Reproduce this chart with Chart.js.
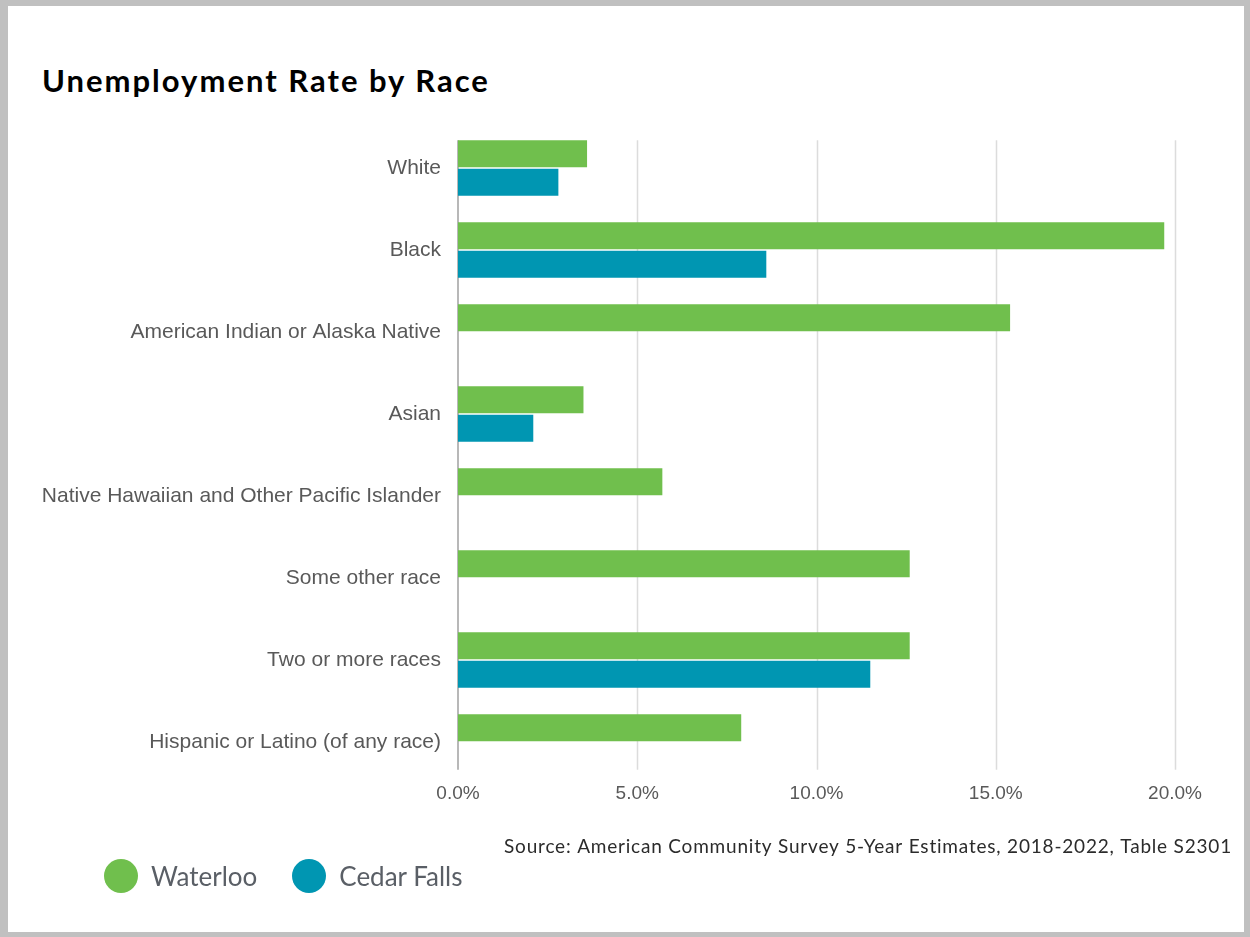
<!DOCTYPE html>
<html>
<head>
<meta charset="utf-8">
<script src="https://cdn.jsdelivr.net/npm/chart.js@4"></script>
<style>
  body { margin: 0; background: #fff; }
  #frame {
    position: absolute; left: 0; top: 0;
    width: 1250px; height: 937px; box-sizing: border-box;
    border-style: solid; border-color: #c0c0c0;
    border-width: 6px 6px 5px 8px;
  }
  #frame h1 {
    position: absolute; left: 34px; top: 56px; margin: 0;
    font: 700 31px Lato, sans-serif; letter-spacing: 2px;
    color: #000; line-height: 36px;
  }
  canvas { position: absolute; left: 0; top: 0; }
  #legend {
    position: absolute; left: 96px; top: 853px;
    display: flex; align-items: center; gap: 35px;
    font: 26px Lato, sans-serif; color: #5a5f66;
  }
  #legend .item { display: flex; align-items: center; gap: 13px; }
  #legend .dot { width: 34px; height: 34px; border-radius: 50%; }
</style>
</head>
<body>
<div id="frame">
  <h1>Unemployment Rate by Race</h1>
  <canvas id="raceChart" width="1236" height="926"></canvas>
  <div id="legend"></div>
</div>
<script>
// Unemployment rate (%) by race, Waterloo vs Cedar Falls
const races = [
  "White",
  "Black",
  "American Indian or Alaska Native",
  "Asian",
  "Native Hawaiian and Other Pacific Islander",
  "Some other race",
  "Two or more races",
  "Hispanic or Latino (of any race)",
];
const waterloo = [3.6, 19.7, 15.4, 3.5, 5.7, 12.6, 12.6, 7.9];
const cedarFalls = [2.8, 8.6, null, 2.1, null, null, 11.5, null];
const xTicks = [0, 5, 10, 15, 20];
const sourceNote =
  "Source: American Community Survey 5-Year Estimates, 2018-2022, Table S2301";

const green = "#70bf4d";
const teal = "#0096b2";

// gridlines + axis line only span the bar groups, not the full category bands
const trimmedGrid = {
  id: "trimmedGrid",
  beforeDatasetsDraw(chart) {
    const { ctx, chartArea, scales } = chart;
    const first = chart.getDatasetMeta(0).data[0];
    const inset = first.y - first.height / 2 - chartArea.top;
    const top = chartArea.top + inset;
    const bottom = chartArea.bottom - inset;
    ctx.save();
    ctx.lineWidth = 1.5;
    ctx.strokeStyle = "#dcdcdc";
    xTicks.forEach((t) => {
      if (t === 0) return;
      const x = Math.round(scales.x.getPixelForValue(t)) + 0.5;
      ctx.beginPath();
      ctx.moveTo(x, top);
      ctx.lineTo(x, bottom);
      ctx.stroke();
    });
    ctx.strokeStyle = "#b8b8b8";
    ctx.lineWidth = 2;
    const x0 = Math.round(scales.x.getPixelForValue(0));
    ctx.beginPath();
    ctx.moveTo(x0, top);
    ctx.lineTo(x0, bottom);
    ctx.stroke();
    ctx.restore();
  },
  afterDraw(chart) {
    const { ctx } = chart;
    ctx.save();
    ctx.font = "19px Lato, sans-serif";
    ctx.letterSpacing = "0.8px";
    ctx.fillStyle = "#2b2b2b";
    ctx.textAlign = "right";
    ctx.textBaseline = "middle";
    ctx.fillText(sourceNote, 1224, 841);
    ctx.restore();
  },
};

const ctx = document.getElementById("raceChart").getContext("2d");
const chart = new Chart(ctx, {
  type: "bar",
  data: {
    labels: races,
    datasets: [
      {
        label: "Waterloo",
        data: waterloo,
        backgroundColor: green,
        categoryPercentage: 0.695,
        barPercentage: 0.94,
      },
      {
        label: "Cedar Falls",
        data: cedarFalls,
        backgroundColor: teal,
        categoryPercentage: 0.695,
        barPercentage: 0.94,
      },
    ],
  },
  options: {
    indexAxis: "y",
    responsive: false,
    animation: false,
    layout: {
      padding: { left: 30, top: 121, right: 69, bottom: 119 },
    },
    plugins: {
      title: { display: false },
      tooltip: { enabled: false },
      legend: { display: false },
    },
    scales: {
      x: {
        min: 0,
        max: 20,
        afterBuildTicks: (scale) => {
          scale.ticks = xTicks.map((v) => ({ value: v }));
        },
        afterFit: (scale) => {
          scale.height = 30;
        },
        grid: { display: false, drawTicks: false },
        border: { display: false },
        ticks: {
          padding: -1,
          color: "#595959",
          font: { family: "Liberation Sans", size: 19 },
          callback: (v) => v.toFixed(1) + "%",
        },
      },
      y: {
        afterFit: (scale) => {
          scale.width = 420;
        },
        grid: { display: false, drawTicks: false },
        border: { display: false },
        ticks: {
          padding: 17,
          color: "#595959",
          font: { family: "Liberation Sans", size: 21 },
        },
      },
    },
  },
  plugins: [trimmedGrid],
});

// Legend built from the datasets
const legendEl = document.getElementById("legend");
chart.data.datasets.forEach((ds) => {
  const item = document.createElement("span");
  item.className = "item";
  const dot = document.createElement("span");
  dot.className = "dot";
  dot.style.background = ds.backgroundColor;
  item.appendChild(dot);
  item.appendChild(document.createTextNode(ds.label));
  legendEl.appendChild(item);
});
</script>
</body>
</html>
